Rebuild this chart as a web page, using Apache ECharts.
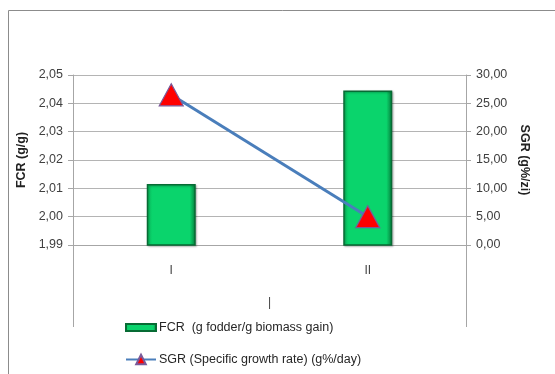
<!DOCTYPE html>
<html>
<head>
<meta charset="utf-8">
<script src="https://cdn.jsdelivr.net/npm/echarts@6/dist/echarts.min.js"></script>
<style>
  html, body { margin: 0; padding: 0; background: #ffffff; }
  #chart { width: 555px; height: 374px; }
</style>
</head>
<body>
<div id="chart"></div>
<script>
// Feed conversion ratio (bars, left axis) and specific growth rate (line, right axis)
const categories = ['I', 'II'];
const fcrValues = [2.0115, 2.0445];
const sgrValues = [26.5, 5.0];
const fcrTicks = [1.99, 2.05, 0.01];   // min, max, step
const sgrTicks = [0, 30, 5];

const fcrName = 'FCR  (g fodder/g biomass gain)';
const sgrName = 'SGR (Specific growth rate) (g%/day)';

const font = 'Liberation Sans';
const fmt = (v, d) => v.toFixed(d).replace('.', ',');

const chart = echarts.init(document.getElementById('chart'), null, { renderer: 'canvas' });

const gridLeft = 73, gridTop = 75, gridRight = 555 - 466, gridBottom = 374 - 245;
const axisExtend = 82; // value axis lines run on below the category baseline

chart.setOption({
  animation: false,
  textStyle: { fontFamily: font },
  grid: { left: gridLeft, top: gridTop, right: gridRight, bottom: gridBottom },
  legend: {
    orient: 'vertical',
    left: 120,
    top: 316,
    itemGap: 19,
    itemWidth: 30,
    itemHeight: 12,
    textStyle: { fontFamily: font, fontSize: 12.5, color: '#262626', padding: [0, 0, 0, -2] },
    data: [
      { name: fcrName, icon: 'path://M0,3 L30,3 L30,10 L0,10 Z' },
      { name: sgrName }
    ]
  },
  xAxis: {
    type: 'category',
    data: categories,
    name: '|',
    nameLocation: 'middle',
    nameGap: 52,
    nameTextStyle: { fontSize: 12, color: '#444' },
    axisLine: { lineStyle: { color: '#a6a6a6' } },
    axisTick: { show: false },
    axisLabel: { margin: 20, fontSize: 12, color: '#444' }
  },
  yAxis: [
    {
      type: 'value',
      min: fcrTicks[0], max: fcrTicks[1], interval: fcrTicks[2],
      name: 'FCR (g/g)',
      nameLocation: 'middle',
      nameGap: 43,
      nameRotate: 90,
      nameTextStyle: { fontWeight: 'bold', fontSize: 12.5, color: '#222' },
      axisLine: { show: true, lineStyle: { color: '#a6a6a6' } },
      axisTick: { show: true, length: 5, lineStyle: { color: '#a6a6a6' } },
      axisLabel: { formatter: v => fmt(v, 2), fontSize: 12.5, color: '#404040', margin: 10 },
      splitLine: { lineStyle: { color: '#b4b4b4', width: 1 } }
    },
    {
      type: 'value',
      position: 'right',
      min: sgrTicks[0], max: sgrTicks[1], interval: sgrTicks[2],
      name: 'SGR (g%/zi)',
      nameLocation: 'middle',
      nameGap: 44,
      nameRotate: -90,
      nameTextStyle: { fontWeight: 'bold', fontSize: 12.5, color: '#222' },
      axisLine: { show: true, lineStyle: { color: '#a6a6a6' } },
      axisTick: { show: true, length: 5, lineStyle: { color: '#a6a6a6' } },
      axisLabel: { formatter: v => fmt(v, 2), fontSize: 12.5, color: '#404040', margin: 10 },
      splitLine: { show: false }
    }
  ],
  series: [
    {
      name: fcrName,
      type: 'bar',
      yAxisIndex: 0,
      data: fcrValues,
      barWidth: 49,
      itemStyle: {
        color: new echarts.graphic.LinearGradient(0, 0, 1, 0, [
          { offset: 0, color: '#0bbf5e' },
          { offset: 0.12, color: '#0ad46c' },
          { offset: 0.88, color: '#0ad46c' },
          { offset: 1, color: '#067a3a' }
        ]),
        borderColor: '#076b34',
        borderWidth: 1.5,
        shadowColor: 'rgba(0,0,0,0.25)',
        shadowBlur: 2,
        shadowOffsetX: 1,
        shadowOffsetY: 1
      },
      z: 2
    },
    {
      name: sgrName,
      type: 'line',
      yAxisIndex: 1,
      data: sgrValues,
      symbol: 'triangle',
      symbolSize: [24, 22],
      lineStyle: { color: '#4a7ebb', width: 3 },
      itemStyle: { color: '#ff0000', borderColor: '#7a5a9a', borderWidth: 1.2 },
      z: 3
    }
  ],
  graphic: [
    // outer chart frame
    { type: 'rect', shape: { x: 8.5, y: 10.5, width: 560, height: 380 },
      style: { fill: 'none', stroke: '#8c8c8c', lineWidth: 1 }, silent: true },
    // value axis lines extended below the baseline
    { type: 'line', shape: { x1: gridLeft + 0.5, y1: 374 - gridBottom, x2: gridLeft + 0.5, y2: 374 - gridBottom + axisExtend },
      style: { stroke: '#a6a6a6', lineWidth: 1 }, silent: true },
    { type: 'line', shape: { x1: 555 - gridRight + 0.5, y1: 374 - gridBottom, x2: 555 - gridRight + 0.5, y2: 374 - gridBottom + axisExtend },
      style: { stroke: '#a6a6a6', lineWidth: 1 }, silent: true }
  ]
});
</script>
</body>
</html>
